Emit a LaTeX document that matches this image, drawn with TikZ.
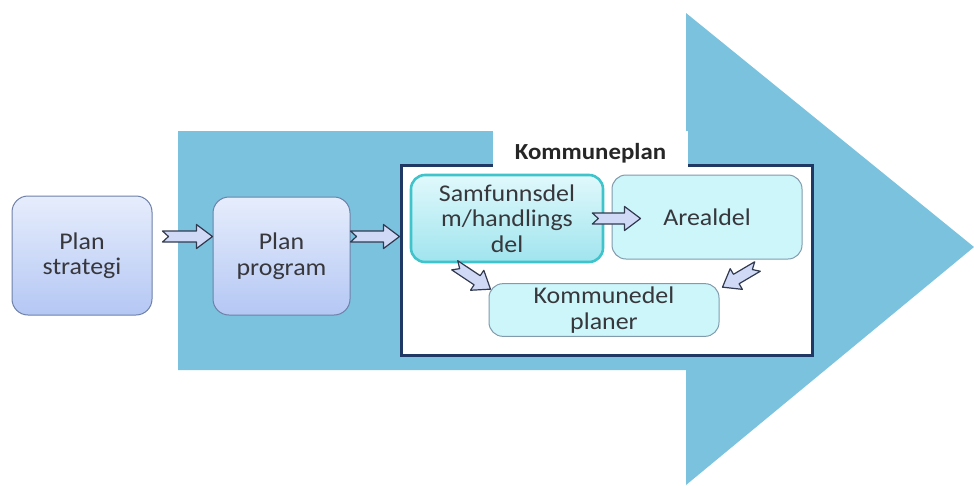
\documentclass[tikz,border=0pt]{standalone}
\usepackage{fontspec}
\setmainfont{Carlito}[FakeStretch=1.08]
\usetikzlibrary{calc}
\definecolor{bigarr}{RGB}{122,194,222}
\definecolor{navy}{RGB}{31,56,100}
\definecolor{plantop}{RGB}{230,237,252}
\definecolor{planbot}{RGB}{180,199,244}
\definecolor{planedge}{RGB}{110,128,168}
\definecolor{samftop}{RGB}{224,249,252}
\definecolor{samfbot}{RGB}{160,228,238}
\definecolor{samfedge}{RGB}{64,196,204}
\definecolor{cyanfill}{RGB}{204,246,250}
\definecolor{cyanedge}{RGB}{130,155,172}
\definecolor{arrfill}{RGB}{208,218,246}
\definecolor{arredge}{RGB}{50,58,80}
\definecolor{txt}{RGB}{55,55,60}
\newcommand{\blockarrow}[2]{%
  \draw[blockarr] let \p1=(#1), \p2=(#2), \n1={atan2(\y2-\y1,\x2-\x1)}, \n2={veclen(\x2-\x1,\y2-\y1)} in
    [shift={(\p1)}, rotate=\n1] (0,-5.5) -- ({\n2-16},-5.5) -- ({\n2-16},-12) -- (\n2,0)
    -- ({\n2-16},12) -- ({\n2-16},5.5) -- (0,5.5) -- (6,0) -- cycle;}
\begin{document}
\begin{tikzpicture}[x=1pt,y=-1pt,text=txt,font=\fontsize{24}{25.5}\selectfont,
    planbox/.style={draw=planedge,line width=1pt,rounded corners=16pt,top color=plantop,bottom color=planbot,align=center},
    samfbox/.style={draw=samfedge,line width=2.6pt,rounded corners=14pt,top color=samftop,bottom color=samfbot,align=center},
    cyanbox/.style={draw=cyanedge,line width=1pt,rounded corners=14pt,fill=cyanfill,align=center},
    blockarr/.style={draw=arredge,line width=1.2pt,fill=arrfill,line join=round}]
	\useasboundingbox (0,0) rectangle (974,485);
	\fill [bigarr] (178,131) -- (686,131) -- (686,13) -- (974,247) -- (686,485) -- (686,370) -- (178,370) -- cycle;
	\node [draw=navy,line width=3pt,fill=white,minimum width=411pt,minimum height=190pt] (kplan) at (606.5,260) {};
	\fill [white] (493,131) rectangle (688,167);
	\node [font=\fontsize{23}{25}\selectfont\bfseries,text=black!85] (ktitle) at (590.5,153) {Kommuneplan};
	\node [planbox,minimum width=140pt,minimum height=119pt] (strategi) at (82,255.5) {Plan\\strategi};
	\node [planbox,minimum width=137pt,minimum height=118pt] (program) at (281.5,256) {Plan\\program};
	\node [samfbox,minimum width=192pt,minimum height=87pt] (samf) at (507,218.5) {Samfunnsdel\\m/handlings\\del};
	\node [cyanbox,minimum width=190pt,minimum height=84pt] (areal) at (707,217) {Arealdel};
	\node [cyanbox,minimum width=230pt,minimum height=50pt] (kdel) at (604,310) {Kommunedel\\planer};
	\coordinate (t1) at ([shift={(10,-19)}]strategi.east);
	\coordinate (t2) at ([shift={(0,-19.5)}]program.east);
	\coordinate (t3) at ([shift={(-12,0)}]samf.east);
	\coordinate (h3) at ($(t3 -| areal.west)+(29,0)$);
	\coordinate (t4) at ([shift={(45,2)}]samf.south west);
	\coordinate (h4) at ([shift={(2,6)}]kdel.north west);
	\coordinate (t5) at ([shift={(-45,7)}]areal.south east);
	\coordinate (h5) at ([shift={(3,4)}]kdel.north east);
	\blockarrow{t1}{t1 -| program.west}
	\blockarrow{t2}{t2 -| kplan.west}
	\blockarrow{t3}{h3}
	\blockarrow{t4}{h4}
	\blockarrow{t5}{h5}
\end{tikzpicture}
\end{document}
